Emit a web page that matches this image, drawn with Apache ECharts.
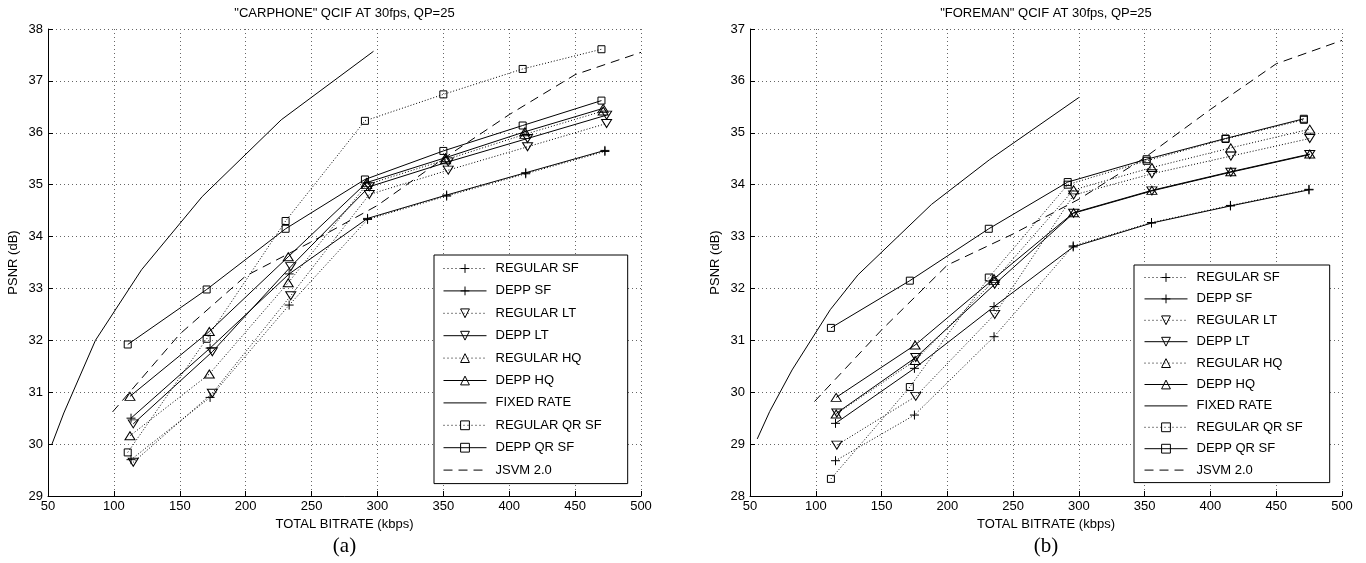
<!DOCTYPE html>
<html><head><meta charset="utf-8">
<script src="https://cdn.jsdelivr.net/npm/echarts@6/dist/echarts.min.js"></script>
<style>html,body{margin:0;padding:0;background:#fff}#c{width:1366px;height:563px}</style>
</head><body><div id="c"></div>
<script>
// ---------- DATA: (a) "CARPHONE" ----------
const carRegularSF = [[113,29.70],[173,30.90],[233,32.68],[292.5,34.33],[352.5,34.78],[412.5,35.21],[472.6,35.64]];
const carDeppSF    = [[113,30.50],[173,31.85],[233,33.28],[292.5,34.35],[352.5,34.80],[412.5,35.23],[472.6,35.66]];
const carRegularLT = [[114.7,29.65],[174.7,30.98],[234.2,32.86],[293.8,34.81],[353.7,35.28],[413.9,35.73],[473.9,36.18]];
const carDeppLT    = [[114.7,30.39],[174.7,31.78],[234.2,33.42],[293.8,34.96],[353.7,35.44],[413.9,35.89],[473.9,36.34]];
const carRegularHQ = [[112.2,30.16],[172.4,31.35],[232.3,33.11],[291.8,35.00],[351.7,35.48],[411.9,35.97],[471.3,36.42]];
const carDeppHQ    = [[112.2,30.92],[172.4,32.17],[232.3,33.61],[291.8,35.04],[351.7,35.52],[411.9,36.02],[471.3,36.47]];
const carFixedRate = [[53,30.0],[62,30.6],[86,32.0],[121,33.36],[167,34.77],[227,36.25],[297,37.57]];
const carRegularQR = [[110.5,29.84],[170.4,32.03],[230.3,34.30],[290.5,36.23],[350,36.74],[410.2,37.23],[470,37.61]];
const carDeppQR    = [[110.5,31.92],[170.4,32.98],[230.3,34.15],[290.5,35.10],[350,35.65],[410.2,36.14],[470,36.62]];
const carJSVM      = [[99,30.62],[150,32.12],[200,33.24],[250,33.9],[300,34.6],[350,35.5],[400,36.35],[450,37.12],[500,37.55]];

// ---------- DATA: (b) "FOREMAN" ----------
const forRegularSF = [[115,28.68],[175,29.56],[235.5,31.07],[295.7,32.82],[355.2,33.27],[415.2,33.60],[474.9,33.91]];
const forDeppSF    = [[115,29.40],[175,30.46],[235.5,31.65],[295.7,32.80],[355.2,33.26],[415.2,33.59],[474.9,33.90]];
const forRegularLT = [[116,28.98],[176,29.92],[236,31.50],[296,33.80],[355.5,34.21],[415.5,34.55],[475.5,34.89]];
const forDeppLT    = [[116,29.60],[176,30.67],[236,32.08],[296,33.45],[355.5,33.88],[415.5,34.24],[475.5,34.58]];
const forRegularHQ = [[115.5,29.58],[175.5,30.61],[235.5,32.15],[296,33.90],[355.5,34.33],[415.5,34.71],[475.5,35.07]];
const forDeppHQ    = [[115.5,29.90],[175.5,30.91],[235.5,32.19],[296,33.46],[355.5,33.89],[415.5,34.25],[475.5,34.59]];
const forFixedRate = [[55.5,29.1],[65,29.63],[82,30.43],[111,31.59],[132,32.26],[188,33.62],[232,34.48],[300,35.68]];
const forRegularQR = [[111.5,28.33],[171.5,30.10],[231.5,32.21],[291.5,34.00],[351.5,34.46],[411.5,34.88],[471,35.25]];
const forDeppQR    = [[111.5,31.24],[171.5,32.15],[231.5,33.15],[291.5,34.05],[351.5,34.49],[411.5,34.89],[471,35.27]];
const forJSVM      = [[99,29.82],[150,31.2],[200,32.45],[250,33.05],[300,33.72],[350,34.52],[400,35.45],[450,36.33],[500,36.78]];

const seriesNames = ['REGULAR SF','DEPP SF','REGULAR LT','DEPP LT','REGULAR HQ','DEPP HQ','FIXED RATE','REGULAR QR SF','DEPP QR SF','JSVM 2.0'];
const carData = [carRegularSF,carDeppSF,carRegularLT,carDeppLT,carRegularHQ,carDeppHQ,carFixedRate,carRegularQR,carDeppQR,carJSVM];
const forData = [forRegularSF,forDeppSF,forRegularLT,forDeppLT,forRegularHQ,forDeppHQ,forFixedRate,forRegularQR,forDeppQR,forJSVM];
const chartTitles = ['"CARPHONE" QCIF AT 30fps, QP=25', '"FOREMAN" QCIF AT 30fps, QP=25'];
const panelLabels = ['(a)', '(b)'];
const xName = 'TOTAL BITRATE (kbps)';
const yName = 'PSNR (dB)';

// ---------- STYLE ----------
const FONT = 'Liberation Sans, Arial, Helvetica, sans-serif';
const PLUS = 'path://M5,0L5,10M0,5L10,5';
const DOT = [1, 2];
const DASH = [9, 6];
const styles = {
  'REGULAR SF':    {symbol: PLUS, size: 9, rotate: 0, dash: DOT},
  'DEPP SF':       {symbol: PLUS, size: 9, rotate: 0, dash: 'solid'},
  'REGULAR LT':    {symbol: 'triangle', size: [10, 8], rotate: 180, dash: DOT},
  'DEPP LT':       {symbol: 'triangle', size: [10, 8], rotate: 180, dash: 'solid'},
  'REGULAR HQ':    {symbol: 'triangle', size: [10, 8], rotate: 0, dash: DOT},
  'DEPP HQ':       {symbol: 'triangle', size: [10, 8], rotate: 0, dash: 'solid'},
  'FIXED RATE':    {symbol: 'none', size: 0, rotate: 0, dash: 'solid'},
  'REGULAR QR SF': {symbol: 'rect', size: 7, rotate: 0, dash: DOT},
  'DEPP QR SF':    {symbol: 'rect', size: 7, rotate: 0, dash: 'solid'},
  'JSVM 2.0':      {symbol: 'none', size: 0, rotate: 0, dash: DASH}
};

function mkSeries(name, data, idx) {
  const s = styles[name];
  return {
    type: 'line', name, data, xAxisIndex: idx, yAxisIndex: idx,
    symbol: s.symbol, symbolSize: s.size, symbolRotate: s.rotate,
    showSymbol: s.symbol !== 'none',
    lineStyle: {color: '#000', width: 1, type: s.dash},
    itemStyle: {color: 'rgba(0,0,0,0)', borderColor: '#000', borderWidth: 1},
    emphasis: {disabled: true}, silent: true
  };
}

function mkLegend(left, top, padding, gap) {
  return {
    show: true, orient: 'vertical', left, top, padding, itemGap: gap,
    itemWidth: 43, itemHeight: 11, backgroundColor: '#fff',
    borderColor: '#000', borderWidth: 1, borderRadius: 0, selectedMode: false,
    textStyle: {fontFamily: FONT, fontSize: 13, color: '#000', padding: [0, 0, 0, 4]},
    itemStyle: {borderWidth: 1, borderColor: '#000'},
    lineStyle: {width: 1, color: '#000'},
    data: seriesNames.map(n => ({
      name: n,
      lineStyle: {type: styles[n].dash === DOT ? [1, 3] : styles[n].dash},
      itemStyle: styles[n].symbol === 'none' ? {opacity: 0} : {}
    }))
  };
}

function mkX(idx) {
  return {
    gridIndex: idx, type: 'value', min: 50, max: 500, interval: 50,
    axisLine: {show: true, onZero: false, lineStyle: {color: '#000', width: 1}},
    axisTick: {show: true, inside: true, length: 5, lineStyle: {color: '#000'}},
    axisLabel: {margin: 4, fontSize: 13, color: '#000', fontFamily: FONT},
    splitLine: {show: true, lineStyle: {color: '#666', width: 1, type: [1, 3]}},
    name: xName, nameLocation: 'middle', nameGap: 20,
    nameTextStyle: {fontSize: 13, color: '#000', fontFamily: FONT}
  };
}
function mkY(idx, min, max) {
  return {
    gridIndex: idx, type: 'value', min, max, interval: 1,
    axisLine: {show: true, onZero: false, lineStyle: {color: '#000', width: 1}},
    axisTick: {show: true, inside: true, length: 5, lineStyle: {color: '#000'}},
    axisLabel: {margin: 5, fontSize: 13, color: '#000', fontFamily: FONT},
    splitLine: {show: true, lineStyle: {color: '#666', width: 1, type: [1, 3]}},
    name: yName, nameLocation: 'middle', nameGap: 28,
    nameTextStyle: {fontSize: 13, color: '#000', fontFamily: FONT}
  };
}

const titleStyle = {fontSize: 13, fontWeight: 'normal', fontFamily: FONT, color: '#000'};
const labelStyle = {fontSize: 21, fontWeight: 'normal', fontFamily: 'Liberation Serif, Times New Roman, serif', color: '#000'};

const option = {
  animation: false,
  backgroundColor: '#fff',
  textStyle: {fontFamily: FONT},
  title: [
    {text: chartTitles[0], left: 344.5, top: 7, textAlign: 'center', padding: 0, textStyle: titleStyle},
    {text: chartTitles[1], left: 1046, top: 7, textAlign: 'center', padding: 0, textStyle: titleStyle},
    {text: panelLabels[0], left: 344.5, top: 536, textAlign: 'center', padding: 0, textStyle: labelStyle},
    {text: panelLabels[1], left: 1046, top: 536, textAlign: 'center', padding: 0, textStyle: labelStyle}
  ],
  grid: [
    {left: 48, top: 29, width: 593, height: 467, containLabel: false},
    {left: 750, top: 29, width: 592, height: 467, containLabel: false}
  ],
  xAxis: [mkX(0), mkX(1)],
  yAxis: [mkY(0, 29, 38), mkY(1, 28, 37)],
  legend: [
    mkLegend(434, 255, [7, 26, 7, 9], 9.4),
    mkLegend(1134, 265, [6, 27, 6, 10], 8.4)
  ],
  series: [
    ...seriesNames.map((n, i) => mkSeries(n, carData[i], 0)),
    ...seriesNames.map((n, i) => mkSeries(n, forData[i], 1))
  ]
};

const chart = echarts.init(document.getElementById('c'), null, {renderer: 'canvas'});
chart.setOption(option);
</script>
</body></html>
